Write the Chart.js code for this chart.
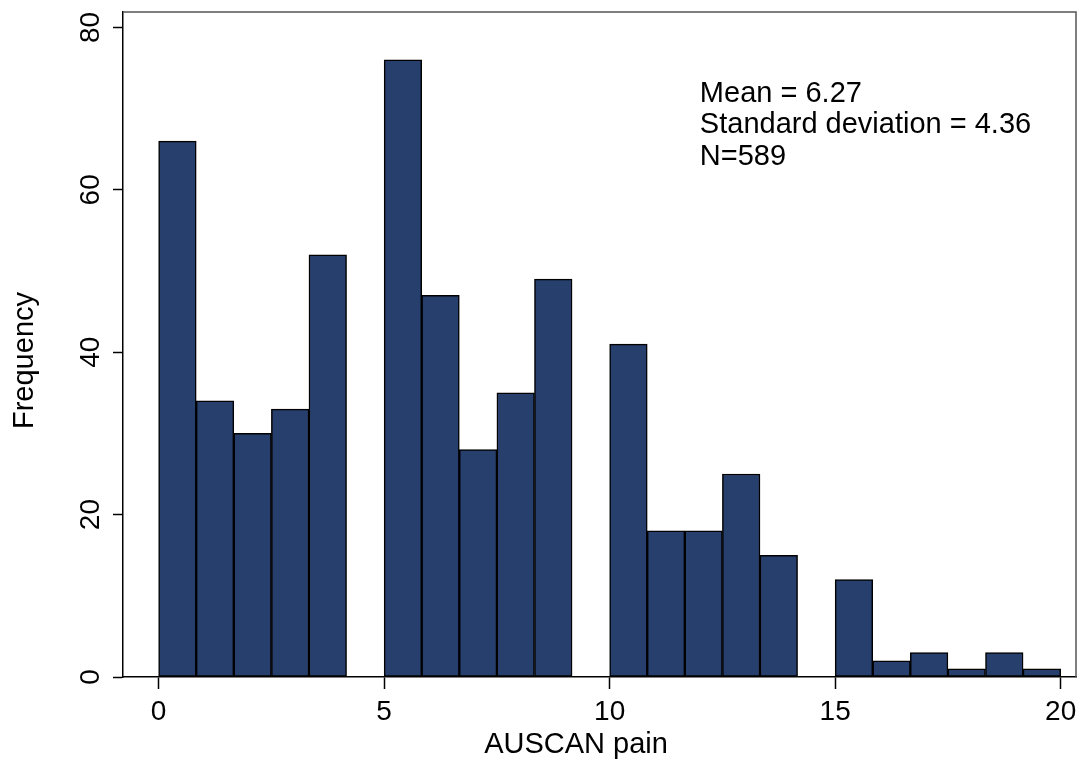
<!DOCTYPE html>
<html>
<head>
<meta charset="utf-8">
<script src="https://cdn.jsdelivr.net/npm/chart.js@4.4.1/dist/chart.umd.min.js"></script>
<style>
  html, body { margin: 0; padding: 0; background: #fff; }
  canvas { display: block; }
</style>
</head>
<body>
<canvas id="c" width="1080" height="760"></canvas>
<script>
// ---- data ----
const binStart = 0;
const binEnd = 20;
const counts = [66, 34, 30, 33, 52, 0, 76, 47, 28, 35, 49, 0, 41, 18, 18, 25, 15, 0, 12, 2, 3, 1, 3, 1];
const xTicks = [0, 5, 10, 15, 20];
const yTicks = [0, 20, 40, 60, 80];
const xTitle = "AUSCAN pain";
const yTitle = "Frequency";
const statLines = ["Mean = 6.27", "Standard deviation = 4.36", "N=589"];
const statPos = { x: 12, y: 70.85 };

const binWidth = (binEnd - binStart) / counts.length;
const points = counts.map((c, i) => ({ x: binStart + (i + 0.5) * binWidth, y: c }));

const FONT = "'Liberation Sans', Arial, Helvetica, sans-serif";

const extras = {
  id: 'extras',
  beforeDatasetsDraw(chart) {
    const { ctx, chartArea: a } = chart;
    ctx.save();
    ctx.strokeStyle = '#555';
    ctx.lineWidth = 1.5;
    ctx.beginPath();
    ctx.moveTo(a.left, a.top);
    ctx.lineTo(a.right, a.top);
    ctx.lineTo(a.right, a.bottom);
    ctx.stroke();
    ctx.restore();
  },
  afterDraw(chart) {
    const { ctx } = chart;
    const xs = chart.scales.x, ys = chart.scales.y;
    ctx.save();
    ctx.fillStyle = '#000';
    ctx.font = "29px " + FONT;
    ctx.textAlign = 'left';
    ctx.textBaseline = 'alphabetic';
    const tx = xs.getPixelForValue(statPos.x);
    const ty = ys.getPixelForValue(statPos.y);
    statLines.forEach((s, i) => ctx.fillText(s, tx, ty + i * 31.5));
    ctx.textAlign = 'center';
    ctx.fillText(xTitle, 576, 753);
    ctx.translate(33, 360.5);
    ctx.rotate(-Math.PI / 2);
    ctx.fillText(yTitle, 0, 0);
    ctx.restore();
  }
};

new Chart(document.getElementById('c'), {
  type: 'bar',
  data: {
    datasets: [{
      data: points,
      backgroundColor: '#273f6d',
      borderColor: '#000',
      borderWidth: 1.5,
      borderSkipped: false,
      barPercentage: 1,
      categoryPercentage: 1
    }]
  },
  options: {
    responsive: false,
    animation: false,
    devicePixelRatio: 1,
    layout: { padding: { top: 12, right: 4, left: 0, bottom: 0 } },
    plugins: { legend: { display: false }, tooltip: { enabled: false } },
    scales: {
      x: {
        type: 'linear',
        min: -0.79,
        max: 20.34,
        offset: false,
        afterFit(s) { s.height = 83; s.paddingLeft = 0; s.paddingRight = 0; },
        afterBuildTicks(s) { s.ticks = xTicks.map(v => ({ value: v })); },
        grid: { display: true, offset: false, drawOnChartArea: false, drawTicks: true, tickLength: 12, tickWidth: 1.5, tickColor: '#000' },
        border: { display: true, color: '#000', width: 1.5 },
        ticks: { color: '#000', font: { family: FONT, size: 28 }, padding: 6, maxRotation: 0, autoSkip: false }
      },
      y: {
        type: 'linear',
        min: 0,
        max: 81.9,
        afterFit(s) { s.width = 123; s.paddingTop = 0; s.paddingBottom = 0; },
        afterBuildTicks(s) { s.ticks = yTicks.map(v => ({ value: v })); },
        grid: { display: true, offset: false, drawOnChartArea: false, drawTicks: true, tickLength: 10, tickWidth: 1.5, tickColor: '#000' },
        border: { display: true, color: '#000', width: 1.5 },
        ticks: { color: '#000', font: { family: FONT, size: 28 }, padding: 6, minRotation: 90, maxRotation: 90, crossAlign: 'center', autoSkip: false }
      }
    }
  },
  plugins: [extras]
});
</script>
</body>
</html>
